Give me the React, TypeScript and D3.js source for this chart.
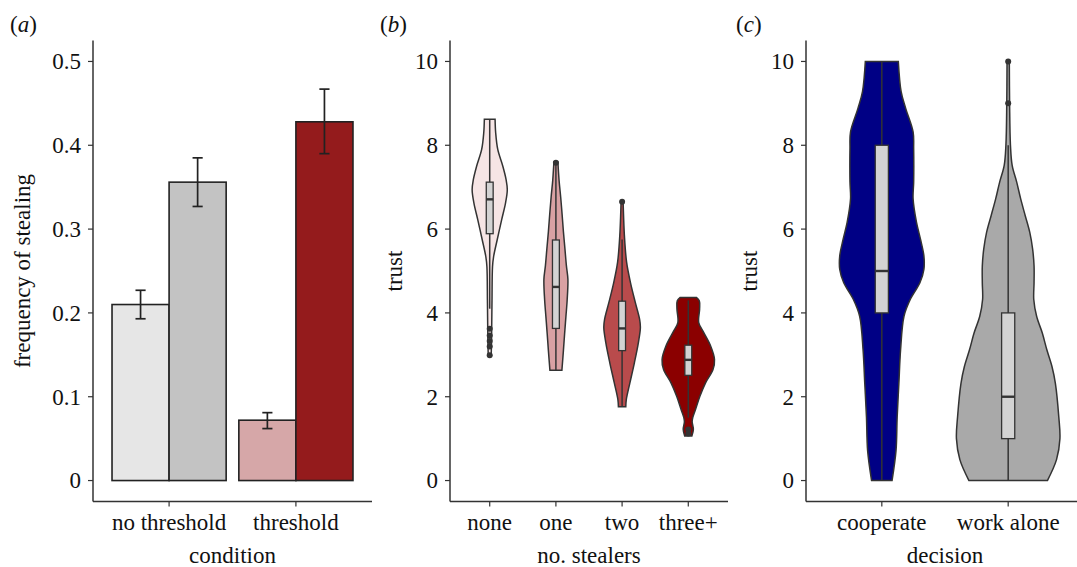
import * as d3 from "d3";

const WIDTH = 1077;
const HEIGHT = 567;
const FONT = "'Liberation Serif', 'Times New Roman', Times, serif";
const FONT_SIZE = 23;
const TEXT_COLOR = "#111";
const LINE_COLOR = "#333";

const Y_TOP = 40.5;
const Y_BOTTOM = 501.5;
const PANEL_A = { left: 93, right: 372 };
const PANEL_B = { left: 450, right: 728 };
const PANEL_C = { left: 806, right: 1084 };

// (a) frequency of stealing
const conditions = ["no threshold", "threshold"];
const subgroups = ["A", "B"];
const barCondition = ["no threshold", "no threshold", "threshold", "threshold"];
const barSubgroup = ["A", "B", "A", "B"];
const barFreq = [0.21, 0.356, 0.072, 0.428];
const barLow = [0.193, 0.327, 0.062, 0.39];
const barHigh = [0.227, 0.385, 0.081, 0.467];
const barFill = ["#e6e6e6", "#c3c3c3", "#d6a7a8", "#941b1c"];
const freqTicks = [0, 0.1, 0.2, 0.3, 0.4, 0.5];
const freqTickLabels = ["0", "0.1", "0.2", "0.3", "0.4", "0.5"];

// (b) trust by number of stealers; violin profiles are [trust, density]
const stealers = ["none", "one", "two", "three+"];
const stealerFill = ["#f6e5e5", "#d9a1a3", "#b94b4c", "#8b0000"];
const densityNone: [number, number][] = [
  [8.62, 0.18], [8.3, 0.2], [7.9, 0.27], [7.5, 0.44], [7.18, 0.55], [6.94, 0.59],
  [6.62, 0.53], [6.22, 0.4], [5.74, 0.25], [5.34, 0.13], [5.1, 0.094], [4.3, 0.077],
  [3.66, 0.067], [3.3, 0.06], [2.99, 0.05],
];
const densityOne: [number, number][] = [
  [7.6, 0.067], [7.16, 0.107], [6.76, 0.161], [6.35, 0.208], [5.94, 0.252], [5.54, 0.302],
  [5.13, 0.352], [4.8, 0.403], [4.32, 0.379], [3.91, 0.336], [3.5, 0.292], [3.1, 0.252],
  [2.63, 0.201],
];
const densityTwo: [number, number][] = [
  [6.65, 0.034], [6.3, 0.05], [5.85, 0.077], [5.21, 0.151], [4.73, 0.279], [4.25, 0.443],
  [3.85, 0.587], [3.65, 0.614], [3.29, 0.547], [2.81, 0.413], [2.33, 0.262], [1.93, 0.141],
  [1.76, 0.124],
];
const densityThreePlus: [number, number][] = [
  [4.37, 0.27], [4.29, 0.37], [4.09, 0.38], [3.77, 0.35], [3.53, 0.52], [3.21, 0.75],
  [2.89, 0.88], [2.65, 0.83], [2.33, 0.58], [2.01, 0.39], [1.69, 0.24], [1.5, 0.15],
  [1.4, 0.13], [1.22, 0.17], [1.06, 0.12],
];
const stealerDensity = [densityNone, densityOne, densityTwo, densityThreePlus];
const stealerQ1 = [5.89, 3.63, 3.1, 2.51];
const stealerMedian = [6.71, 4.62, 3.63, 2.88];
const stealerQ3 = [7.12, 5.74, 4.28, 3.23];
const stealerWhiskerLow = [4.1, 2.63, 1.76, 1.5];
const stealerWhiskerHigh = [8.62, 7.6, 5.75, 4.3];
const stealerOutliers = [[3.62, 3.46, 3.33, 3.2, 2.99], [7.58], [6.65], [1.22, 1.12]];

// (c) trust by decision
const decisions = ["cooperate", "work alone"];
const decisionFill = ["#000085", "#a9a9a9"];
const densityCooperate: [number, number][] = [
  [10, 0.29], [9.28, 0.34], [8.88, 0.42], [8.32, 0.55], [7.92, 0.56], [7.12, 0.56],
  [6.72, 0.55], [6.16, 0.61], [5.76, 0.68], [5.36, 0.74], [5.04, 0.74], [4.72, 0.67],
  [4.32, 0.5], [3.92, 0.39], [3.12, 0.33], [2.32, 0.3], [1.52, 0.27], [0.72, 0.25],
  [0, 0.18],
];
const densityWorkAlone: [number, number][] = [
  [10, 0.02], [9, 0.025], [8, 0.04], [7.52, 0.07], [7.12, 0.15], [6.72, 0.22],
  [6.32, 0.3], [5.92, 0.38], [5.52, 0.43], [5.12, 0.455], [4.72, 0.455], [4.32, 0.45],
  [3.92, 0.5], [3.52, 0.6], [3.12, 0.68], [2.72, 0.77], [2.32, 0.83], [1.52, 0.89],
  [1, 0.91], [0.5, 0.85], [0, 0.69],
];
const decisionDensity = [densityCooperate, densityWorkAlone];
const decisionQ1 = [4, 1];
const decisionMedian = [5, 2];
const decisionQ3 = [8, 4];
const decisionWhiskerLow = [0, 0];
const decisionWhiskerHigh = [10, 8];
const decisionOutliers = [[], [9, 10]];

const trustTicks = [0, 2, 4, 6, 8, 10];
const trustTickLabels = ["0", "2", "4", "6", "8", "10"];

const textProps = {
  fontFamily: FONT,
  fontSize: FONT_SIZE,
  fill: TEXT_COLOR,
};

type YAxisProps = {
  x: number;
  scale: d3.ScaleLinear<number, number>;
  ticks: number[];
  labels: string[];
};

const YAxis = ({ x, scale, ticks, labels }: YAxisProps) => (
  <g>
    <line x1={x} x2={x} y1={Y_TOP} y2={Y_BOTTOM} stroke={LINE_COLOR} strokeWidth={1.5} />
    {ticks.map((t, i) => (
      <g key={i}>
        <line x1={x - 5} x2={x} y1={scale(t)} y2={scale(t)} stroke={LINE_COLOR} strokeWidth={1.2} />
        <text {...textProps} x={x - 12} y={scale(t)} dy="0.34em" textAnchor="end">
          {labels[i]}
        </text>
      </g>
    ))}
  </g>
);

type XAxisProps = {
  left: number;
  right: number;
  scale: d3.ScalePoint<string>;
  title: string;
};

const XAxis = ({ left, right, scale, title }: XAxisProps) => (
  <g>
    <line x1={left} x2={right} y1={Y_BOTTOM} y2={Y_BOTTOM} stroke={LINE_COLOR} strokeWidth={1.5} />
    {scale.domain().map((d) => (
      <g key={d}>
        <line
          x1={scale(d)}
          x2={scale(d)}
          y1={Y_BOTTOM}
          y2={Y_BOTTOM + 5}
          stroke={LINE_COLOR}
          strokeWidth={1.2}
        />
        <text {...textProps} x={scale(d)} y={530} textAnchor="middle">
          {d}
        </text>
      </g>
    ))}
    <text {...textProps} x={(left + right) / 2} y={563} textAnchor="middle">
      {title}
    </text>
  </g>
);

const YTitle = ({ x, title }: { x: number; title: string }) => (
  <text
    {...textProps}
    transform={`translate(${x},${(Y_TOP + Y_BOTTOM) / 2}) rotate(-90)`}
    textAnchor="middle"
  >
    {title}
  </text>
);

const PanelLabel = ({ x, letter }: { x: number; letter: string }) => (
  <text {...textProps} x={x} y={32}>
    (<tspan fontStyle="italic">{letter}</tspan>)
  </text>
);

type ViolinsProps = {
  groups: string[];
  xScale: d3.ScalePoint<string>;
  yScale: d3.ScaleLinear<number, number>;
  fills: string[];
  densities: [number, number][][];
  q1: number[];
  median: number[];
  q3: number[];
  whiskerLow: number[];
  whiskerHigh: number[];
  outliers: number[][];
};

const Violins = ({
  groups,
  xScale,
  yScale,
  fills,
  densities,
  q1,
  median,
  q3,
  whiskerLow,
  whiskerHigh,
  outliers,
}: ViolinsProps) => {
  const step = xScale.step();
  const widthScale = d3.scaleLinear().domain([0, 1]).range([0, 0.45 * step]);
  const boxHalf = 0.052 * step;

  return (
    <g>
      {groups.map((g, i) => {
        const cx = xScale(g) ?? 0;
        const area = d3
          .area<[number, number]>()
          .y((d) => yScale(d[0]))
          .x0((d) => cx - widthScale(d[1]))
          .x1((d) => cx + widthScale(d[1]))
          .curve(d3.curveCatmullRom.alpha(0.5));
        return (
          <g key={g}>
            <path d={area(densities[i]) ?? ""} fill={fills[i]} stroke={LINE_COLOR} strokeWidth={1.5} />
            <line
              x1={cx}
              x2={cx}
              y1={yScale(whiskerLow[i])}
              y2={yScale(whiskerHigh[i])}
              stroke={LINE_COLOR}
              strokeWidth={1.5}
            />
            <rect
              x={cx - boxHalf}
              width={2 * boxHalf}
              y={yScale(q3[i])}
              height={yScale(q1[i]) - yScale(q3[i])}
              fill="#d3d3d3"
              stroke={LINE_COLOR}
              strokeWidth={1.3}
            />
            <line
              x1={cx - boxHalf}
              x2={cx + boxHalf}
              y1={yScale(median[i])}
              y2={yScale(median[i])}
              stroke={LINE_COLOR}
              strokeWidth={2.4}
            />
            {outliers[i].map((o, j) => (
              <circle key={j} cx={cx} cy={yScale(o)} r={3} fill={LINE_COLOR} />
            ))}
          </g>
        );
      })}
    </g>
  );
};

export default function App() {
  // (a)
  const xA = d3
    .scalePoint<string>()
    .domain(conditions)
    .range([PANEL_A.left, PANEL_A.right])
    .padding(0.6);
  const yA = d3.scaleLinear().domain([-0.025, 0.525]).range([Y_BOTTOM, Y_TOP]);
  const subA = d3
    .scaleBand<string>()
    .domain(subgroups)
    .range([-0.45 * xA.step(), 0.45 * xA.step()]);
  const capHalf = 0.04 * xA.step();

  // (b)
  const xB = d3
    .scalePoint<string>()
    .domain(stealers)
    .range([PANEL_B.left, PANEL_B.right])
    .padding(0.6);
  const yTrust = d3.scaleLinear().domain([-0.5, 10.5]).range([Y_BOTTOM, Y_TOP]);

  // (c)
  const xC = d3
    .scalePoint<string>()
    .domain(decisions)
    .range([PANEL_C.left, PANEL_C.right])
    .padding(0.6);

  return (
    <div style={{ position: "absolute", left: 0, top: 0 }}>
      <svg width={WIDTH} height={HEIGHT} style={{ display: "block", background: "#fff" }}>
        {/* panel a */}
        <PanelLabel x={10} letter="a" />
        {barFreq.map((v, i) => {
          const x = (xA(barCondition[i]) ?? 0) + (subA(barSubgroup[i]) ?? 0);
          const cx = x + subA.bandwidth() / 2;
          return (
            <g key={i}>
              <rect
                x={x}
                width={subA.bandwidth()}
                y={yA(v)}
                height={yA(0) - yA(v)}
                fill={barFill[i]}
                stroke="#222"
                strokeWidth={1.6}
              />
              <line x1={cx} x2={cx} y1={yA(barLow[i])} y2={yA(barHigh[i])} stroke="#222" strokeWidth={1.7} />
              <line x1={cx - capHalf} x2={cx + capHalf} y1={yA(barLow[i])} y2={yA(barLow[i])} stroke="#222" strokeWidth={1.7} />
              <line x1={cx - capHalf} x2={cx + capHalf} y1={yA(barHigh[i])} y2={yA(barHigh[i])} stroke="#222" strokeWidth={1.7} />
            </g>
          );
        })}
        <YAxis x={PANEL_A.left} scale={yA} ticks={freqTicks} labels={freqTickLabels} />
        <XAxis left={PANEL_A.left} right={PANEL_A.right} scale={xA} title="condition" />
        <YTitle x={29.5} title="frequency of stealing" />

        {/* panel b */}
        <PanelLabel x={380} letter="b" />
        <Violins
          groups={stealers}
          xScale={xB}
          yScale={yTrust}
          fills={stealerFill}
          densities={stealerDensity}
          q1={stealerQ1}
          median={stealerMedian}
          q3={stealerQ3}
          whiskerLow={stealerWhiskerLow}
          whiskerHigh={stealerWhiskerHigh}
          outliers={stealerOutliers}
        />
        <YAxis x={PANEL_B.left} scale={yTrust} ticks={trustTicks} labels={trustTickLabels} />
        <XAxis left={PANEL_B.left} right={PANEL_B.right} scale={xB} title="no. stealers" />
        <YTitle x={401.5} title="trust" />

        {/* panel c */}
        <PanelLabel x={736} letter="c" />
        <Violins
          groups={decisions}
          xScale={xC}
          yScale={yTrust}
          fills={decisionFill}
          densities={decisionDensity}
          q1={decisionQ1}
          median={decisionMedian}
          q3={decisionQ3}
          whiskerLow={decisionWhiskerLow}
          whiskerHigh={decisionWhiskerHigh}
          outliers={decisionOutliers}
        />
        <YAxis x={PANEL_C.left} scale={yTrust} ticks={trustTicks} labels={trustTickLabels} />
        <XAxis left={PANEL_C.left} right={PANEL_C.right} scale={xC} title="decision" />
        <YTitle x={756.5} title="trust" />
      </svg>
    </div>
  );
}
